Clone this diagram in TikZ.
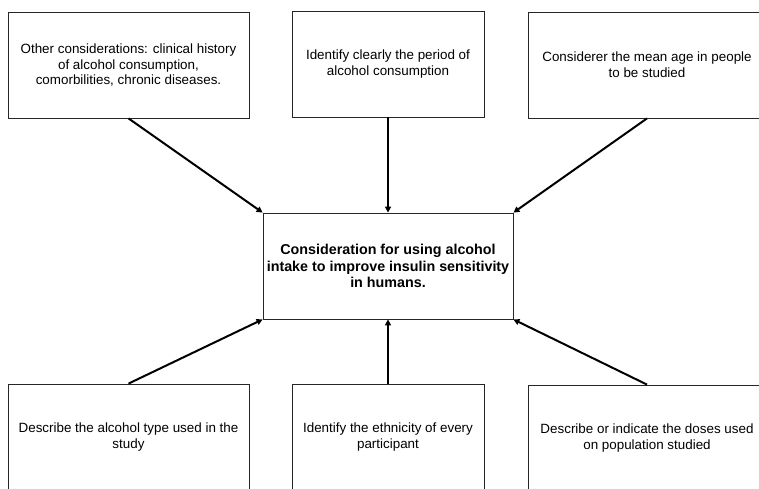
\documentclass[tikz,border=0pt]{standalone}
\usepackage{fontspec}
\setmainfont{Liberation Sans}
\usetikzlibrary{arrows.meta}
\begin{document}
\begin{tikzpicture}[x=1pt,y=-1pt]

  \tikzstyle{box}=[draw=black!85,line width=0.8pt,rectangle,minimum height=106pt,
                   align=center,font=\fontsize{13.4}{15.8}\selectfont,inner sep=0pt]
  \tikzstyle{link}=[line width=2pt,-{Triangle[length=6pt,width=6pt]}]

  \useasboundingbox (0,0) rectangle (759,488);
  \clip (0,0) rectangle (759,488);

  % outer boxes
  \node[box,minimum width=241pt] (tl) at (128.5,65)
    {Other considerations: clinical history\\of alcohol consumption,\\comorbilities, chronic diseases.};
  \node[box,minimum width=192pt] (tm) at (388,64)
    {Identify clearly the period of\\alcohol consumption};
  \node[box,minimum width=238pt] (tr) at (647,65)
    {Considerer the mean age in people\\to be studied};

  \node[box,minimum width=241pt] (bl) at (128.5,437)
    {Describe the alcohol type used in the\\study};
  \node[box,minimum width=192pt] (bm) at (388,437)
    {Identify the ethnicity of every\\participant};
  \node[box,minimum width=238pt] (br) at (647,438)
    {Describe or indicate the doses used\\on population studied};

  % centre
  \node[box,minimum width=250pt,font=\fontsize{14.3}{16.7}\selectfont\bfseries] (c) at (388,266)
    {Consideration for using alcohol\\intake to improve insulin sensitivity\\in humans.};

  \foreach \from/\to in {tl.south/c.north west, tm.south/c.north, tr.south/c.north east,
                         bl.north/c.south west, bm.north/c.south, br.north/c.south east}
    \draw[link] (\from) -- (\to);
\end{tikzpicture}
\end{document}
